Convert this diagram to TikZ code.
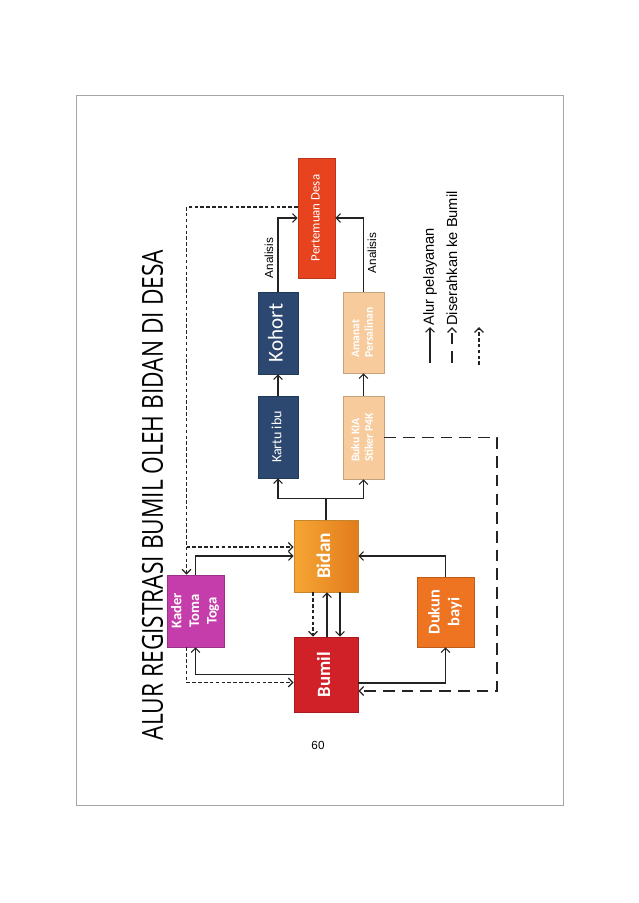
\documentclass[tikz,border=0pt]{standalone}
\usepackage{fontspec}
\usepackage{graphicx}
\setmainfont{Carlito}
\newfontfamily\titlefont{Open Sans}
\newfontfamily\legendfont{Liberation Sans}
\usetikzlibrary{arrows.meta,calc,shadows}
\definecolor{DesaRed}{RGB}{232,67,31}
\definecolor{NavyCard}{RGB}{44,71,112}
\definecolor{PeachCard}{RGB}{248,203,156}
\definecolor{BidanOrange}{RGB}{246,166,52}
\definecolor{BidanDark}{RGB}{226,124,28}
\definecolor{BumilRed}{RGB}{208,32,40}
\definecolor{KaderPink}{RGB}{196,61,170}
\definecolor{DukunOrange}{RGB}{238,116,33}
\definecolor{LineGrey}{RGB}{35,35,35}
\newcommand{\uptext}[2][c]{\rotatebox{90}{\begin{tabular}{@{}#1@{}}#2\end{tabular}}}

\begin{document}
\begin{tikzpicture}[x=0.03cm,y=-0.03cm,
  card/.style={draw=#1!80!black,fill=#1,text=white,inner sep=0pt,line width=0.5pt,
    drop shadow={shadow xshift=1.2pt,shadow yshift=-1.2pt,opacity=0.3}},
  arr/.style={-{Straight Barb[length=3.8pt,width=7.5pt]},line width=0.95pt,LineGrey},
  line/.style={line width=0.95pt,LineGrey},
  dots/.style={arr,line width=1.1pt,dash pattern=on 3pt off 2pt},
  dashes/.style={arr,line width=1.1pt,dash pattern=on 10pt off 6pt},
  note/.style={rotate=90,inner sep=1pt,font=\legendfont\fontsize{10}{12}\selectfont}
]
\useasboundingbox (0,0) rectangle (638,903);
\draw[gray!70,line width=0.6pt] (76,95) rectangle (563,805);

% title and page number
\node[inner sep=0pt] (title) at (152.5,495) {\rotatebox{90}{\resizebox{14.7cm}{0.63cm}{\titlefont ALUR REGISTRASI BUMIL OLEH BIDAN DI DESA}}};
\node[font=\legendfont\fontsize{10}{12}\selectfont] (pagenum) at (318,745) {60};

% cards
\node[card=DesaRed,minimum width=1.11cm,minimum height=3.6cm] (desa) at (316.5,218) {\fontsize{11}{13}\selectfont\uptext{Pertemuan Desa}};
\node[card=NavyCard,minimum width=1.2cm,minimum height=2.46cm] (kohort) at (278,333) {\fontsize{18}{20}\selectfont\uptext{Kohort}};
\node[card=NavyCard,minimum width=1.2cm,minimum height=2.46cm] (kartu) at (278,437) {\fontsize{12}{14}\selectfont\uptext{Kartu ibu}};
\node[card=PeachCard,minimum width=1.23cm,minimum height=2.43cm] (amanat) at (363.5,332.5) {\fontsize{10}{11.5}\selectfont\bfseries\uptext[l]{Amanat\\Persalinan}};
\node[card=PeachCard,minimum width=1.23cm,minimum height=2.49cm] (buku) at (363.5,437.5) {\fontsize{10}{11.5}\selectfont\bfseries\uptext[l]{Buku KIA\\Stiker P4K}};
\node[card=BidanOrange,left color=BidanOrange,right color=BidanDark,minimum width=1.92cm,minimum height=2.16cm] (bidan) at (326,556) {\fontsize{16.5}{18}\selectfont\bfseries\uptext{Bidan}};
\node[card=BumilRed,minimum width=1.92cm,minimum height=2.25cm] (bumil) at (326,674.5) {\fontsize{16}{18}\selectfont\bfseries\uptext{Bumil}};
\node[card=KaderPink,minimum width=1.71cm,minimum height=2.16cm] (kader) at (195.5,611) {\fontsize{12.5}{15}\selectfont\bfseries\uptext{Kader\\Toma\\Toga}};
\node[card=DukunOrange,minimum width=1.71cm,minimum height=2.1cm] (dukun) at (445.5,612) {\fontsize{14}{17}\selectfont\bfseries\uptext{Dukun\\bayi}};

% analisis
\draw[arr] (kartu) -- (kohort);
\draw[arr] (buku) -- (amanat);
\draw[arr] (kohort.north) |- (desa.west);
\draw[arr] (amanat.north) |- (desa.east);
\node[note] (analisis1) at (269,258) {Analisis};
\node[note] (analisis2) at (372,253) {Analisis};

% bidan to records
\coordinate (split) at ($(bidan.north)+(0,-21)$);
\draw[line] (bidan.north) -- (split);
\draw[arr] (split) -| (kartu.south);
\draw[arr] (split) -| (buku.south);

% bidan and bumil
\draw[dots] ($(bidan.south)+(-13,0)$) -- ($(bumil.north)+(-13,0)$);
\draw[arr] ($(bumil.north)+(1,0)$) -- ($(bidan.south)+(1,0)$);
\draw[arr] ($(bidan.south)+(14,0)$) -- ($(bumil.north)+(14,0)$);

% kader
\coordinate (kadtop) at ($(kader.north)+(-9,0)$);
\coordinate (bidwest) at ($(bidan.west)+(0,-9)$);
\draw[dots] ($(desa.west)+(0,-11)$) -| (kadtop);
\draw[dots] (kadtop |- bidwest) -- (bidwest);
\draw[arr] (kader.north) |- (bidan.west);
\draw[arr] (bumil.west) -| (kader.south);
\draw[dots] ($(kader.south)+(-9,0)$) |- ($(bumil.west)+(0,8)$);

% dukun
\draw[arr] (dukun.north) |- (bidan.east);
\draw[arr] ($(bumil.east)+(0,8.5)$) -| (dukun.south);
\coordinate (rturn) at (buku.east -| 497,0);
\draw[dashes] (buku.east) -- (rturn) |- ($(bumil.east)+(0,16.5)$);

% legend
\coordinate (lgstart1) at (430,363);
\coordinate (lgend1) at (430,327);
\coordinate (lgstart2) at (452,363);
\coordinate (lgend2) at (452,327);
\coordinate (lgstart3) at (479,365);
\coordinate (lgend3) at (479,327);
\draw[arr] (lgstart1) -- (lgend1);
\draw[dashes] (lgstart2) -- (lgend2);
\draw[dots] (lgstart3) -- (lgend3);
\node[note,anchor=west,font=\legendfont\fontsize{12.5}{14}\selectfont] (alur) at (lgend1) {Alur pelayanan};
\node[note,anchor=west,font=\legendfont\fontsize{12.5}{14}\selectfont] (serah) at (lgend2) {Diserahkan ke Bumil};
\end{tikzpicture}
\end{document}
